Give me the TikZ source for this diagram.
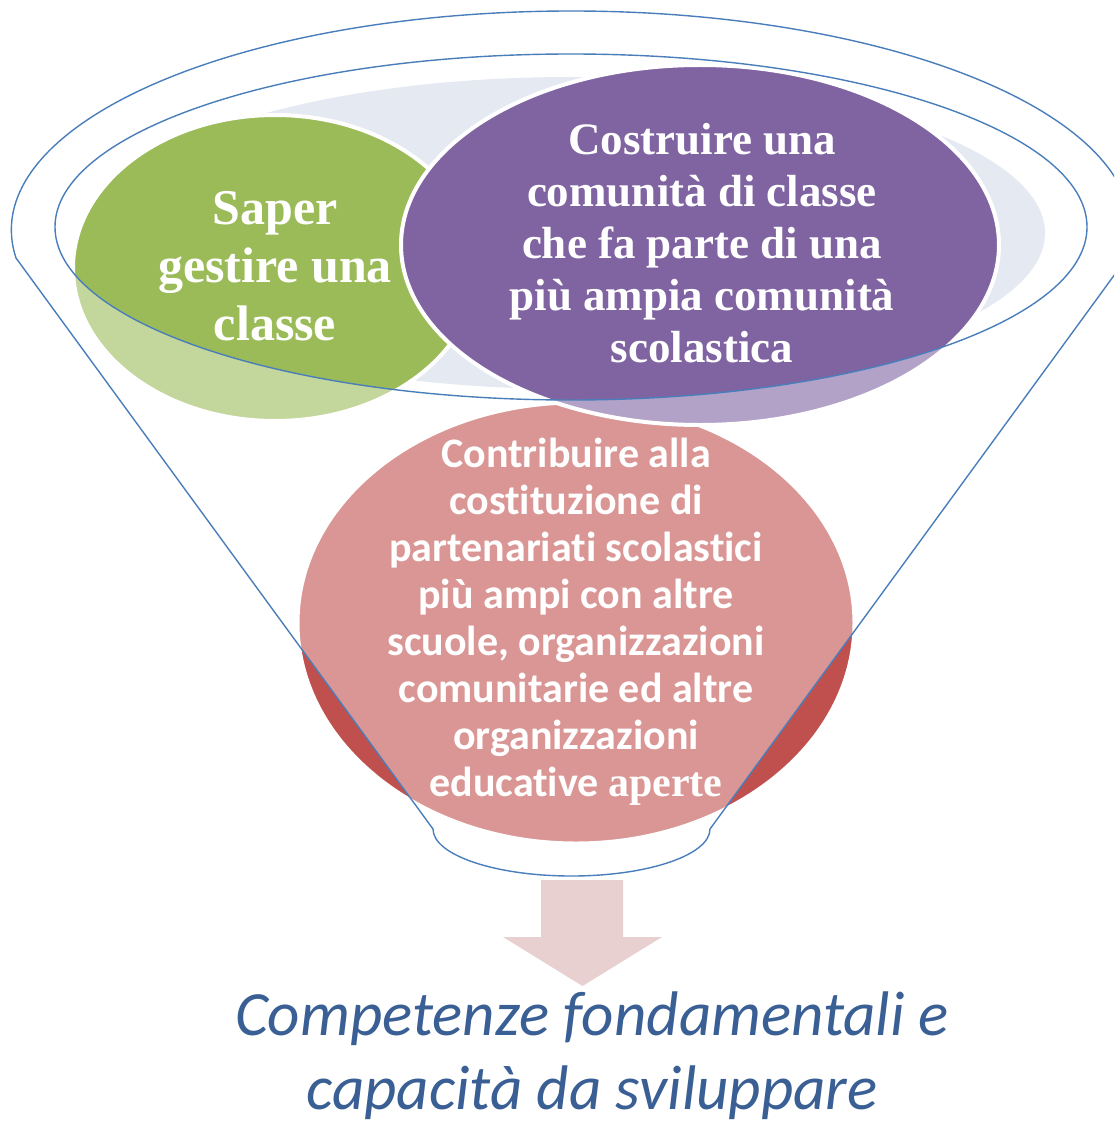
\documentclass[tikz,border=0pt]{standalone}
\usepackage{fontspec}
\setmainfont{Liberation Serif}
\newfontfamily\calibrifont[Ligatures=CommonOff]{Carlito}
\definecolor{cgreen}{HTML}{9BBB59}
\definecolor{cpurple}{HTML}{8064A2}
\definecolor{cred}{HTML}{C0504D}
\definecolor{cgray}{HTML}{E4E9F2}
\definecolor{cblue}{HTML}{4A7EBB}
\definecolor{ctext}{HTML}{3A5F94}
\definecolor{carrow}{HTML}{E8D0D0}
\tikzset{
  bubble/.style={draw=white, line width=4},
  rim/.style={draw=cblue, line width=1.4},
  serifbig/.style={text=white, align=center, inner sep=0pt, font=\bfseries\fontsize{50}{58}\selectfont},
  serifmid/.style={text=white, align=center, inner sep=0pt, font=\bfseries\fontsize{45}{52}\selectfont},
  sanstext/.style={text=white, align=center, inner sep=0pt, font=\calibrifont\bfseries\fontsize{42}{47}\selectfont},
  outtext/.style={text=ctext, align=center, inner sep=0pt, font=\calibrifont\itshape\fontsize{63}{74}\selectfont}
}
\begin{document}
\begin{tikzpicture}[x=1pt,y=-1pt]
\useasboundingbox (0,0) rectangle (1114,1126);
\clip (0,0) rectangle (1114,1126);
% back ellipse
\fill[cgray] (570,233) ellipse [x radius=475, y radius=156];
% coloured ellipses
\filldraw[fill=cgreen, bubble] (275,268) ellipse [x radius=202, y radius=153];
\filldraw[fill=cred, bubble, line width=3] (576,623) ellipse [x radius=278, y radius=220];
\filldraw[fill=cpurple, bubble] (700,245) ellipse [x radius=299, y radius=180];
% funnel body (semi-transparent white) with the opening left clear
\fill[white, fill opacity=0.4, even odd rule]
  (16,258) arc[start angle=172.65, end angle=367.35, x radius=560, y radius=219]
  -- (710,829) arc[start angle=0, end angle=180, x radius=138.5, y radius=47]
  -- cycle
  (571,227) ellipse [x radius=516, y radius=173];
% funnel outlines
\draw[rim]
  (16,258) arc[start angle=172.65, end angle=367.35, x radius=560, y radius=219]
  -- (710,829) arc[start angle=0, end angle=180, x radius=138.5, y radius=47]
  -- cycle;
\draw[rim] (571,227) ellipse [x radius=516, y radius=173];
% arrow
\fill[carrow] (541,880) -- (623,880) -- (623,937) -- (662,937) -- (582.5,986)
  -- (503,937) -- (541,937) -- cycle;
% texts
\node[serifbig] (saper) at (275,266) {Saper\\gestire una\\classe};
\node[serifmid] (costruire) at (702,243) {Costruire una\\comunità di classe\\che fa parte di una\\più ampia comunità\\scolastica};
\node[sanstext] (contribuire) at (576,622) {Contribuire alla\\costituzione di\\partenariati scolastici\\più ampi con altre\\scuole, organizzazioni\\comunitarie ed altre\\organizzazioni\\educative {\rmfamily\bfseries aperte}};
\node[outtext] (competenze) at (592,1056) {Competenze fondamentali e\\capacità da sviluppare};
\end{tikzpicture}
\end{document}
